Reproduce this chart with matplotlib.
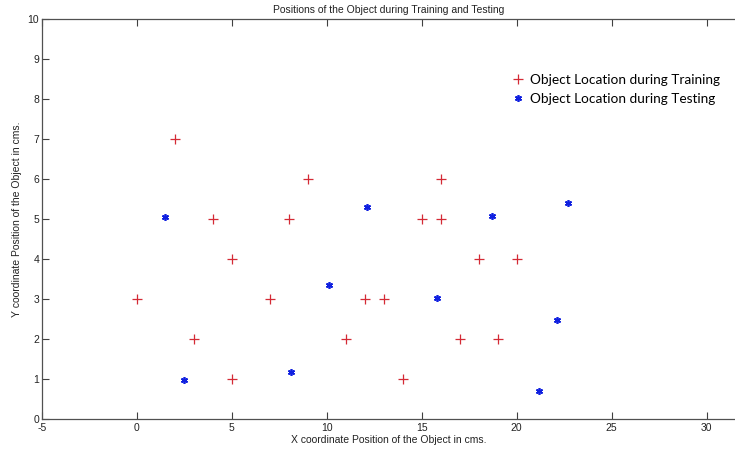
import matplotlib.pyplot as plt

# object positions (cm) used while training
train_x = [0, 2, 3, 4, 5, 5, 7, 8, 9, 11, 12, 13, 14, 15, 16, 16, 17, 18, 19, 20]
train_y = [3, 7, 2, 5, 4, 1, 3, 5, 6, 2, 3, 3, 1, 5, 6, 5, 2, 4, 2, 4]

# object positions (cm) used while testing
test_x = [1.5, 2.5, 8.1, 10.1, 12.1, 15.8, 18.7, 21.2, 22.1, 22.7]
test_y = [5.05, 0.98, 1.18, 3.35, 5.3, 3.03, 5.08, 0.7, 2.48, 5.4]

x_ticks = [-5, 0, 5, 10, 15, 20, 25, 30]
y_ticks = list(range(0, 11))

plt.rcParams['font.family'] = ['Liberation Sans Narrow', 'Liberation Sans', 'DejaVu Sans']
plt.rcParams['axes.unicode_minus'] = False

fig = plt.figure(figsize=(7.35, 4.49), dpi=100)
ax = fig.add_axes([42 / 735, 30 / 449, 1 - 42 / 735, 400 / 449])

ax.plot(train_x, train_y, linestyle='none', marker='+', color='#d42a35',
        markersize=6.5, markeredgewidth=0.9, label='Object Location during Training')
ax.plot(test_x, test_y, linestyle='none', marker=(6, 2, 0), color='#1020e0',
        markersize=5, markeredgewidth=1.2, label='Object Location during Testing')

ax.set_xlim(-5, 31.5)
ax.set_ylim(0, 10)
ax.set_xticks(x_ticks)
ax.set_yticks(y_ticks)

# box style axes: ticks pointing in on bottom, top and left
ax.tick_params(direction='in', length=5, width=0.8, color='#404040',
               labelsize=7.5, labelcolor='#222222', top=True, pad=2)
ax.tick_params(axis='x', pad=3)
for side in ['left', 'bottom', 'top']:
    ax.spines[side].set_color('#505050')
    ax.spines[side].set_linewidth(0.9)
ax.spines['right'].set_visible(False)

ax.set_title('Positions of the Object during Training and Testing', fontsize=7.5, pad=4, color='#222222')
ax.set_xlabel('X coordinate Position of the Object in cms.', fontsize=7.5, labelpad=1, color='#222222')
ax.set_ylabel('Y coordinate Position of the Object in cms.', fontsize=7.5, labelpad=4, color='#222222')

leg = ax.legend(loc='upper left', bbox_to_anchor=(512 / 735, 1 - 74 / 449),
                bbox_transform=fig.transFigure, frameon=False,
                prop={'family': ['Lato', 'DejaVu Sans'], 'size': 9.8},
                handlelength=0.9, handletextpad=0.45, labelspacing=0.5,
                borderpad=0, borderaxespad=0)

plt.savefig('out.png', dpi=100)
